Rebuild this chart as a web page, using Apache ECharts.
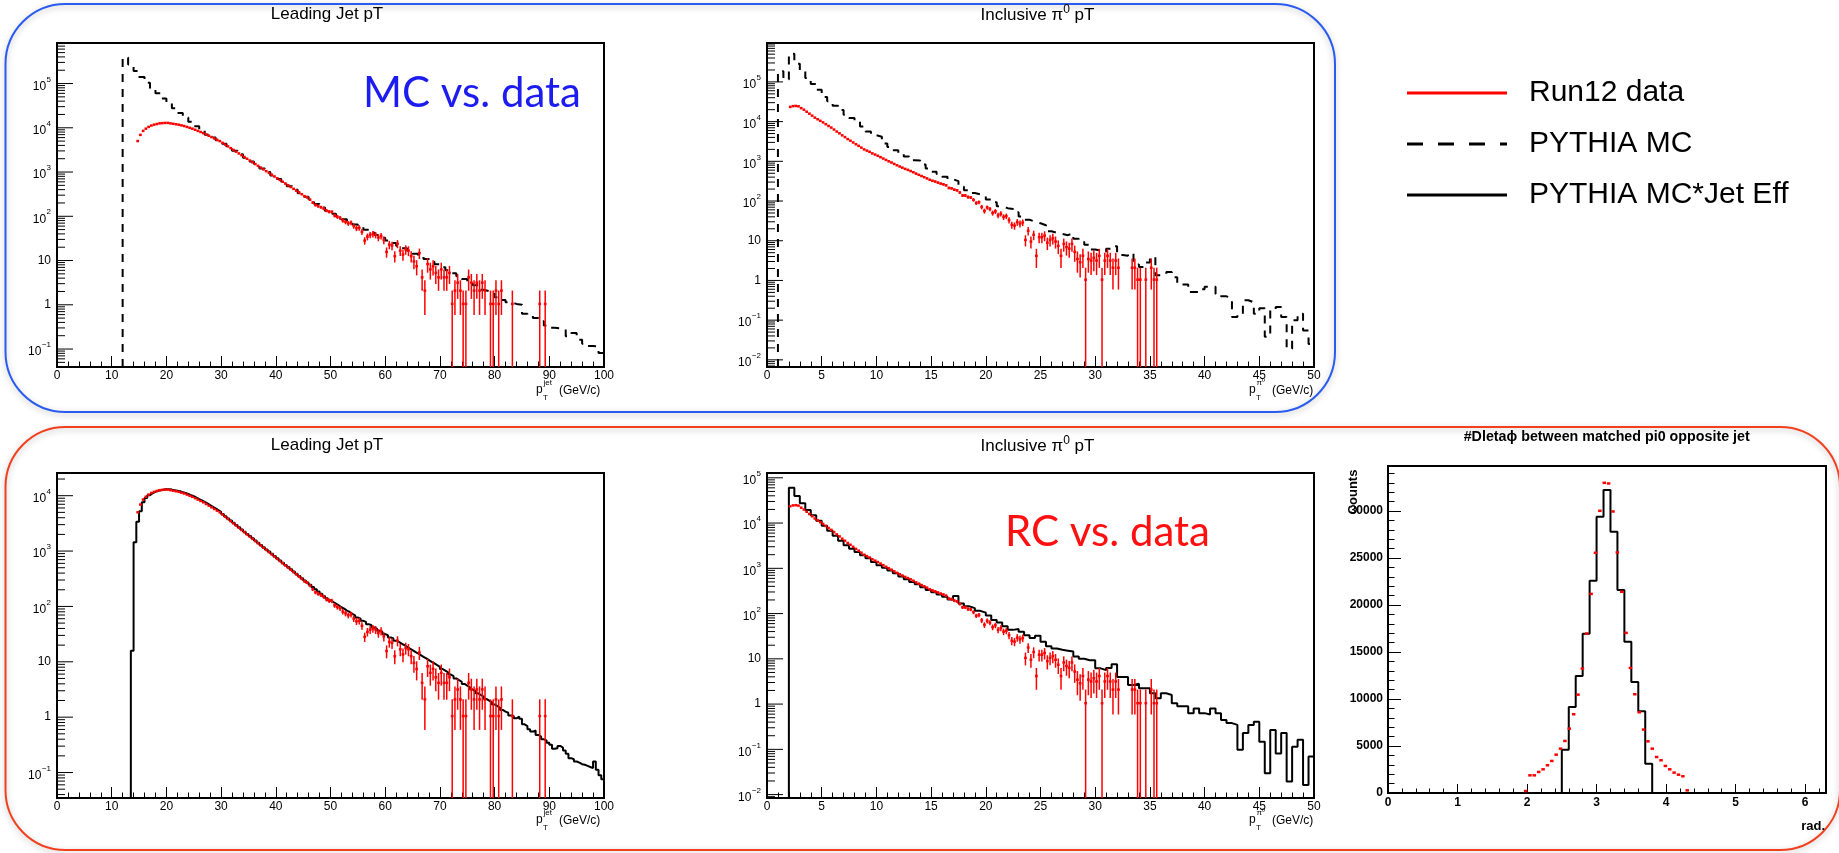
<!DOCTYPE html>
<html>
<head>
<meta charset="utf-8">
<script src="https://cdn.jsdelivr.net/npm/echarts@6.0.0/dist/echarts.min.js"></script>
<style>
html,body{margin:0;padding:0;background:#ffffff;}
#chart{width:1839px;height:853px;}
</style>
</head>
<body>
<div id="chart"></div>
<script>
// ================= DATA =================
// Leading jet pT, Run12 data: 0.5 GeV bins starting at 14.5 GeV, values as log10(counts)
const JET_DATA_BIN = 0.5;
const jetDataStart = 14.5;
const jetDataLog10 = [
 3.70,3.84,3.93,3.98,4.02,4.05,4.07,4.085,4.10,4.105,
 4.11,4.11,4.10,4.09,4.08,4.07,4.055,4.04,4.02,4.00,
 3.98,3.955,3.93,3.905,3.88,3.85,3.82,3.79,3.76,3.73,
 3.70,3.66,3.62,3.58,3.54,3.50,3.46,3.42,3.38,3.34,
 3.30,3.26,3.22,3.18,3.14,3.10,3.06,3.02,2.98,2.94,
 2.90,2.86,2.82,2.78,2.74,2.70,2.66,2.62,2.58,2.54,
 2.50,2.455,2.43,2.375,2.31,2.255,2.23,2.205,2.175,2.13,
 2.105,2.10,2.02,1.99,1.965,1.905,1.875,1.84,1.855,1.78,
 1.73,1.74,1.65,1.45,1.54,1.58,1.60,1.58,1.52,1.555,
 1.46,1.195,1.36,1.34,1.10,1.38,1.225,1.135,1.25,1.225,
 1.10,0.98,0.87,1.167,0.62,0.32,0.92,0.80,0.87,0.72,
 0.62,0.80,0.62,0.62,0.72,0.02,0.32,0.50,0.32,0.02,
 0.02,0.62,0.50,0.32,0.50,0.32,0.50,0.32,null,0.02,
 0.02,0.32,0.02,0.32,null,null,null,0.02,null,null,
 null,null,null,null,null,null,null,0.02,null,0.02
];
// statistical error (absolute counts) of each jet data bin
const jetDataErr = [
 72,85,95,100,105,108,111,113,115,116,
 116,116,115,114,112,111,109,107,105,102,
 100,97,95,92,89,86,83,80,78,75,
 72,69,66,63,60,58,55,53,50,48,
 46,44,42,40,38,36,35,33,32,30,
 29,28,26,25,24,23,22,21,20,19,
 18.2,17.3,16.8,15.8,14.7,13.7,13.4,13,12.5,11.9,
 11.6,11.5,10.5,10.1,9.8,9.2,8.9,8.5,8.7,7.9,
 7.5,7.6,6.9,5.4,6.1,6.3,6.5,6.3,5.9,6.1,
 5.5,4.1,4.9,4.8,3.6,5.0,4.2,3.8,4.3,4.2,
 3.6,3.2,2.8,3.9,2.1,1.5,3.0,2.6,2.8,2.3,
 2.1,2.6,2.1,2.1,2.3,1.05,1.5,1.8,1.5,1.05,
 1.05,2.1,1.8,1.5,1.8,1.5,1.8,1.5,0,1.05,
 1.05,1.5,1.05,1.5,0,0,0,1.05,0,0,
 0,0,0,0,0,0,0,1.05,0,1.05
];
// Leading jet pT, PYTHIA MC: 1 GeV bins from 12 GeV, log10(counts)
const JET_MC_BIN = 1;
const jetMcStart = 12;
const jetMcLog10 = [
 5.59,5.43,5.285,5.145,5.02,4.90,4.78,4.66,4.55,4.44,
 4.335,4.235,4.135,4.035,3.935,3.84,3.78,3.72,3.64,3.56,
 3.48,3.40,3.32,3.24,3.16,3.08,3.00,2.92,2.84,2.76,
 2.68,2.60,2.52,2.44,2.36,2.28,2.20,2.12,2.055,1.995,
 1.935,1.875,1.815,1.755,1.695,1.635,1.575,1.515,1.455,1.395,
 1.335,1.275,1.215,1.155,1.095,1.035,0.975,0.915,0.85,0.78,
 0.715,0.645,0.58,0.51,0.44,0.34,0.31,0.25,0.17,0.11,
 0.06,0.02,0.0,-0.20,-0.25,-0.30,-0.37,-0.47,-0.52,-0.53,
 -0.55,-0.71,-0.64,-0.79,-0.88,-0.93,-0.94,-1.09
];
// Leading jet pT, PYTHIA MC*Jet Eff: 0.5 GeV bins from 13.5 GeV, log10(counts)
const JET_EFF_BIN = 0.5;
const jetEffStart = 13.5;
const jetEffLog10 = [
 1.20,3.16,3.53,3.72,3.88,3.96,4.01,4.045,4.07,4.09,
 4.10,4.11,4.115,4.115,4.11,4.10,4.09,4.08,4.065,4.05,
 4.03,4.01,3.99,3.965,3.94,3.915,3.89,3.86,3.83,3.80,
 3.77,3.74,3.71,3.67,3.63,3.59,3.55,3.51,3.47,3.43,
 3.39,3.35,3.31,3.27,3.23,3.19,3.15,3.11,3.07,3.03,
 2.99,2.95,2.91,2.87,2.83,2.79,2.75,2.71,2.67,2.63,
 2.59,2.55,2.51,2.47,2.43,2.39,2.35,2.31,2.27,2.23,
 2.19,2.15,2.11,2.08,2.05,2.02,1.985,1.96,1.925,1.90,
 1.865,1.84,1.80,1.78,1.74,1.72,1.68,1.66,1.62,1.60,
 1.56,1.54,1.50,1.48,1.44,1.42,1.38,1.36,1.33,1.30,
 1.27,1.24,1.21,1.18,1.15,1.12,1.09,1.06,1.03,1.00,
 0.97,0.94,0.91,0.87,0.84,0.81,0.77,0.74,0.70,0.67,
 0.64,0.60,0.57,0.54,0.50,0.47,0.43,0.40,0.37,0.33,
 0.30,0.27,0.23,0.20,0.17,0.13,0.10,0.08,0.03,0.02,
 -0.02,0.01,-0.03,-0.13,-0.16,-0.22,-0.26,-0.24,-0.32,-0.35,
 -0.40,-0.42,-0.46,-0.50,-0.57,-0.56,-0.52,-0.55,-0.60,-0.66,
 -0.74,-0.76,-0.80,-0.82,-0.85,-0.86,-0.88,-0.90,-0.92,-0.80,
 -0.95,-1.05,-1.12
];
// Inclusive pi0 pT, Run12 data: 0.25 GeV bins from 2 GeV, log10(counts)
const PI0_DATA_BIN = 0.25;
const pi0DataStart = 2.0;
const pi0DataLog10 = [
 4.37,4.39,4.395,4.385,4.34,4.30,4.25,4.20,4.15,4.10,
 4.06,4.02,3.98,3.935,3.89,3.85,3.80,3.75,3.705,3.655,
 3.61,3.56,3.52,3.475,3.43,3.39,3.345,3.30,3.27,3.24,
 3.20,3.17,3.14,3.105,3.07,3.035,3.00,2.97,2.935,2.90,
 2.87,2.84,2.81,2.785,2.755,2.725,2.69,2.66,2.63,2.60,
 2.57,2.535,2.51,2.49,2.465,2.44,2.42,2.395,2.33,2.32,
 2.285,2.27,2.215,2.14,2.14,2.10,2.09,2.03,1.95,1.97,
 1.85,1.75,1.84,1.80,1.70,1.74,1.64,1.68,1.60,1.62,
 1.52,1.40,1.38,1.47,1.43,1.46,1.02,1.25,0.98,1.15,
 0.62,1.09,1.09,1.13,0.95,1.02,1.06,0.98,0.87,0.62,
 0.92,0.84,0.80,0.92,0.72,0.54,0.46,0.62,0.02,0.54,
 0.50,0.57,0.50,0.62,0.02,0.50,0.62,0.50,0.32,0.50,
 0.32,null,null,null,null,0.32,0.32,0.02,0.02,null,
 0.02,null,0.32,0.02,0.02
];
const pi0DataErr = [
 157,160,161,160,152,145,137,129,122,115,
 110,105,100,95,90,86,81,77,73,69,
 65,62,59,56,53,51,48,46,44,43,
 41,39,38,37,35,34,32,31,30,29,
 28,27,26,25,24,24,23,22,21,20,
 20,19,18,18,18,17,17,16,15,15,
 14,14,13,12,12,11.5,11,10.6,9.7,9.9,
 9.0,8.0,8.5,8.1,7.3,7.6,6.8,7.1,6.5,6.6,
 5.9,5.1,5.0,5.6,5.3,5.5,3.3,4.3,3.2,3.8,
 2.1,3.6,3.6,3.8,3.1,3.3,3.5,3.2,2.8,2.1,
 3.0,2.7,2.6,3.0,2.3,1.9,1.7,2.1,1.05,1.9,
 1.8,2.0,1.8,2.1,1.05,1.8,2.1,1.8,1.5,1.8,
 1.5,0,0,0,0,1.5,1.5,1.05,1.05,0,
 1.05,0,1.5,1.05,1.05
];
// Inclusive pi0 pT, PYTHIA MC: 0.5 GeV bins from 1 GeV, log10(counts)
const PI0_MC_BIN = 0.5;
const pi0McStart = 1.0;
const pi0McLog10 = [
 5.27,5.06,5.71,5.46,5.30,5.10,4.95,4.80,4.62,4.51,
 4.40,4.29,4.17,4.09,4.01,3.88,3.75,3.66,3.62,3.45,
 3.36,3.28,3.20,3.12,3.03,3.02,2.92,2.82,2.74,2.68,
 2.61,2.55,2.50,2.36,2.27,2.20,2.17,2.14,2.04,1.97,
 1.87,1.82,1.80,1.72,1.61,1.53,1.48,1.44,1.39,1.24,
 1.20,1.17,1.14,1.19,1.05,0.97,0.90,0.78,0.75,0.72,
 0.80,0.86,0.64,0.62,0.68,0.40,0.34,0.45,0.59,0.13,
 0.15,0.21,0.08,-0.10,-0.10,-0.29,-0.29,-0.22,-0.16,-0.16,
 -0.34,-0.40,-0.45,-0.92,-0.84,-0.50,-0.55,-0.84,-0.70,-1.42,
 -0.75,-0.67,-0.92,-1.72,-1.00,-0.84,-1.26,-1.60
];
// Inclusive pi0 pT, PYTHIA MC*Jet Eff: 0.5 GeV bins from 2 GeV, log10(counts)
const PI0_EFF_BIN = 0.5;
const pi0EffStart = 2.0;
const pi0EffLog10 = [
 4.78,4.60,4.44,4.29,4.17,4.05,3.94,3.83,3.72,3.61,
 3.51,3.43,3.36,3.29,3.22,3.14,3.07,3.01,2.95,2.89,
 2.82,2.76,2.70,2.65,2.58,2.52,2.47,2.42,2.37,2.31,
 2.39,2.22,2.16,2.12,2.06,2.02,1.96,1.86,1.80,1.72,
 1.64,1.66,1.60,1.52,1.46,1.51,1.38,1.28,1.23,1.20,
 1.18,1.16,1.05,1.00,0.97,0.97,0.79,0.75,0.80,0.88,
 0.60,0.60,0.42,0.45,0.35,0.35,0.24,0.13,0.24,0.20,
 0.02,-0.05,-0.05,-0.20,-0.10,-0.20,-0.23,-0.10,-0.20,-0.35,
 -0.42,-0.46,-1.01,-0.64,-0.46,-0.39,-0.83,-1.53,-0.57,-1.09,
 -0.64,-1.71,-0.94,-0.79,-1.79,-1.16
];
// Delta-phi between matched pi0 and opposite jet
const DPHI_EFF_BIN = 0.1;
const dphiEffStart = 2.5;
const dphiEffCounts = [4600,9150,12450,16950,22600,29400,32250,27800,21600,16100,11800,8700,3100];
const DPHI_DATA_BIN = 2 * Math.PI / 100;
const dphiDataFirstBin = 31;
const dphiDataCounts = [
 210,1880,1880,2240,2520,2950,3410,4080,4720,5540,6850,8380,10470,13240,16970,21190,25560,30030,33010,
 32940,29960,25600,21410,17040,13310,10510,8590,6750,5500,4720,3830,3480,2880,2520,2170,1950,1780,280
];
// tick decades (log axes) per panel
const tlDecades = [-1,0,1,2,3,4,5];
const tmDecades = [-2,-1,0,1,2,3,4,5];
const blDecades = [-1,0,1,2,3,4];
const bmDecades = [-2,-1,0,1,2,3,4,5];
const legendNames = ['Run12 data','PYTHIA MC','PYTHIA MC*Jet Eff'];

// ================= LAYOUT =================
const FONT = "'Liberation Sans', Arial, Helvetica, sans-serif";
const RED = '#ff0000';
const RANGES = {
  tl: [Math.pow(10,-1.406), Math.pow(10,5.916)],
  tm: [Math.pow(10,-2.18),  Math.pow(10,5.98)],
  bl: [Math.pow(10,-1.46),  Math.pow(10,4.41)],
  bm: [Math.pow(10,-2.075), Math.pow(10,5.106)]
};
const grids = [
  {left: 57,   top: 43,  width: 547, height: 324},
  {left: 767,  top: 43,  width: 547, height: 324},
  {left: 57,   top: 473, width: 547, height: 325},
  {left: 767,  top: 473, width: 547, height: 325},
  {left: 1388, top: 466, width: 438, height: 327}
].map(g => Object.assign({show: true, borderColor: '#000', borderWidth: 2, backgroundColor: 'transparent', containLabel: false, outerBoundsMode: 'none'}, g));

const mctx = document.createElement('canvas').getContext('2d');
function tw(text, font) { mctx.font = font; return mctx.measureText(text).width; }

function xAx(gi, max, interval, opt) {
  opt = opt || {};
  return {
    type: 'value', gridIndex: gi, min: 0, max: max, interval: interval,
    axisLine: {show: false},
    axisTick: {show: true, inside: true, length: opt.tick || 11, lineStyle: {color: '#000', width: 1}},
    minorTick: {show: true, splitNumber: 5, length: opt.minor || 5.5, lineStyle: {color: '#000', width: 1}},
    splitLine: {show: false}, minorSplitLine: {show: false},
    axisLabel: {fontFamily: FONT, fontSize: 12, color: '#000', margin: opt.margin || 3,
      fontWeight: opt.bold ? 'bold' : 'normal', showMaxLabel: opt.hideMax ? false : true,
      formatter: function (v) { return String(Math.round(v * 1000) / 1000); }}
  };
}
function yLog(gi, r) {
  return {type: 'log', logBase: 10, gridIndex: gi, min: r[0], max: r[1],
    axisLine: {show: false}, axisTick: {show: false}, axisLabel: {show: false},
    splitLine: {show: false}, minorTick: {show: false}};
}

function logTickSeries(gi, r, decades) {
  const data = [];
  const k0 = Math.floor(Math.log10(r[0])), k1 = Math.ceil(Math.log10(r[1]));
  for (let k = k0; k <= k1; k++) {
    for (let m = 1; m <= 9; m++) {
      const v = m * Math.pow(10, k);
      if (v < r[0] || v > r[1]) continue;
      data.push([0, v, (m === 1 && decades.indexOf(k) >= 0) ? 1 : 0, k]);
    }
  }
  return {
    type: 'custom', xAxisIndex: gi, yAxisIndex: gi, silent: true, clip: false, z: 6,
    data: data,
    renderItem: function (params, api) {
      const v = api.value(1), major = api.value(2) === 1, k = api.value(3);
      const p = api.coord([0, v]);
      const ch = [{type: 'line', shape: {x1: p[0], y1: p[1], x2: p[0] + (major ? 16 : 8), y2: p[1]},
        style: {stroke: '#000', lineWidth: 1}}];
      if (major) {
        const xr = p[0] - 6;
        if (k === 0 || k === 1) {
          ch.push({type: 'text', x: xr, y: p[1], style: {text: k === 0 ? '1' : '10', fill: '#000',
            font: '12px ' + FONT, align: 'right', verticalAlign: 'middle'}});
        } else {
          const ex = (k < 0 ? '\u2212' + (-k) : String(k));
          const sw = tw(ex, '8px ' + FONT);
          ch.push({type: 'text', x: xr, y: p[1] - 4, style: {text: ex, fill: '#000',
            font: '8px ' + FONT, align: 'right', verticalAlign: 'middle'}});
          ch.push({type: 'text', x: xr - sw - 0.5, y: p[1] + 3, style: {text: '10', fill: '#000',
            font: '12px ' + FONT, align: 'right', verticalAlign: 'middle'}});
        }
      }
      return {type: 'group', children: ch};
    }
  };
}

function histSeries(name, gi, start, bw, vals, floor, dashed, closeEnd) {
  const pts = [[start, floor]];
  vals.forEach(function (v, i) {
    const lo = start + i * bw, y = (v == null) ? floor : v;
    pts.push([lo, y], [lo + bw, y]);
  });
  if (closeEnd) pts.push([start + vals.length * bw, floor]);
  return {
    type: 'line', name: name, xAxisIndex: gi, yAxisIndex: gi, data: pts,
    symbol: 'none', showSymbol: false, clip: true, z: 3, silent: true,
    lineStyle: {color: '#000', width: 2, type: dashed ? [8, 7] : 'solid'},
    itemStyle: {color: '#000'}, emphasis: {disabled: true}
  };
}

function dataSeries(gi, pts, floor, barWidth) {
  return {
    type: 'custom', name: 'Run12 data', xAxisIndex: gi, yAxisIndex: gi, clip: true, z: 4, silent: true,
    dimensions: ['x', 'y', 'err', 'hw'], encode: {x: 0, y: 1},
    itemStyle: {color: RED},
    data: pts,
    renderItem: function (params, api) {
      const c = api.value(0), v = api.value(1), e = api.value(2) || 0, hw = api.value(3);
      const cs = params.coordSys;
      const l = api.coord([c - hw, v]), r = api.coord([c + hw, v]);
      const ch = [{type: 'line', shape: {x1: l[0], y1: l[1], x2: r[0], y2: r[1]},
        style: {stroke: RED, lineWidth: barWidth}}];
      if (e > 0) {
        const t = api.coord([c, v + e]);
        const b = (v - e > floor) ? api.coord([c, v - e])[1] : cs.y + cs.height;
        const xm = (l[0] + r[0]) / 2;
        ch.push({type: 'line', shape: {x1: xm, y1: t[1], x2: xm, y2: b}, style: {stroke: RED, lineWidth: 1.5}});
      }
      return {type: 'group', children: ch};
    }
  };
}

function pow10(arr) { return arr.map(function (L) { return L == null ? null : Math.pow(10, L); }); }
function dataPoints(start, bw, logs, errs) {
  const out = [];
  logs.forEach(function (L, i) {
    if (L == null) return;
    out.push([start + (i + 0.5) * bw, Math.pow(10, L), errs[i], bw / 2]);
  });
  return out;
}

const jetPts = dataPoints(jetDataStart, JET_DATA_BIN, jetDataLog10, jetDataErr);
const pi0Pts = dataPoints(pi0DataStart, PI0_DATA_BIN, pi0DataLog10, pi0DataErr);
const dphiPts = dphiDataCounts.map(function (v, i) {
  return [(dphiDataFirstBin + i + 0.5) * DPHI_DATA_BIN, v, 0, DPHI_DATA_BIN * 0.4];
});

// ---------- texts ----------
const graphics = [];
graphics.push({type: 'rect', silent: true, z: -10,
  shape: {x: 5.5, y: 4, width: 1329.5, height: 408, r: 60},
  style: {fill: 'none', stroke: '#2a5bef', lineWidth: 2, shadowBlur: 6, shadowColor: 'rgba(0,0,0,0.28)', shadowOffsetY: 2}});
graphics.push({type: 'rect', silent: true, z: -10,
  shape: {x: 5.5, y: 427, width: 1834.5, height: 423, r: 60},
  style: {fill: 'none', stroke: '#f2401f', lineWidth: 2, shadowBlur: 6, shadowColor: 'rgba(0,0,0,0.28)', shadowOffsetY: 2}});

function addText(t, x, y, font, opts) {
  opts = opts || {};
  graphics.push({type: 'text', x: x, y: y, silent: true, z: 20,
    scaleX: opts.sx || 1, rotation: opts.rot || 0,
    style: {text: t, font: font, fill: opts.color || '#000', align: opts.align || 'left', verticalAlign: 'middle'}});
}
const F17 = '17px ' + FONT;
addText('Leading Jet pT', 327, 14, F17, {align: 'center'});
addText('Leading Jet pT', 327, 445, F17, {align: 'center'});
function piTitle(cx, cy) {
  const a = 'Inclusive \u03c0', b = '0', c = ' pT';
  const fs = '12px ' + FONT;
  const W = tw(a, F17) + tw(b, fs) + tw(c, F17);
  let x = cx - W / 2;
  addText(a, x, cy, F17); x += tw(a, F17);
  addText(b, x, cy - 5, fs); x += tw(b, fs);
  addText(c, x, cy, F17);
}
piTitle(1037.5, 15);
piTitle(1037.5, 446);
addText('#Dleta\u03d5 between matched pi0 opposite jet', 1606.7, 437, 'bold 14px ' + FONT, {align: 'center', sx: 1.02});
addText('Counts', 1353, 492, 'bold 13px ' + FONT, {align: 'center', rot: Math.PI / 2});
addText('rad.', 1825, 826, 'bold 13px ' + FONT, {align: 'right'});

function pTitle(xp, yc, sup) {
  addText('p', xp, yc, '12px ' + FONT);
  addText(sup, xp + 7.5, yc - 7, '8px ' + FONT);
  addText('T', xp + 7, yc + 8, '8px ' + FONT);
  addText('(GeV/c)', xp + 23, yc + 1, '12px ' + FONT);
}
pTitle(536, 390, 'jet');
pTitle(1249, 390, '\u03c0\u2070');
pTitle(536, 820, 'jet');
pTitle(1249, 820, '\u03c0\u2070');

addText('MC vs. data', 363, 93, '42px Lato, ' + FONT, {color: '#1c1cf0'});
addText('RC vs. data', 1005, 532, '42px Lato, ' + FONT, {color: '#ff1010'});

// ================= CHART =================
const chart = echarts.init(document.getElementById('chart'), null, {renderer: 'canvas', width: 1839, height: 853});
const option = {
  animation: false,
  backgroundColor: '#ffffff',
  grid: grids,
  legend: {
    orient: 'vertical', left: 1402, top: 73, itemWidth: 100, itemHeight: 3, itemGap: 21,
    selectedMode: false,
    formatter: '{t|{name}}',
    textStyle: {color: '#000', rich: {t: {fontFamily: FONT, fontSize: 30, lineHeight: 30, padding: [0, 0, 0, 17], color: '#000'}}},
    data: [
      {name: legendNames[0], icon: 'rect', itemStyle: {color: RED}},
      {name: legendNames[1], icon: 'path://M0,0h16v3h-16z M31,0h16v3h-16z M62,0h16v3h-16z M93,0h7v3h-7z', itemStyle: {color: '#000'}},
      {name: legendNames[2], icon: 'rect', itemStyle: {color: '#000'}}
    ]
  },
  xAxis: [
    xAx(0, 100, 10), xAx(1, 50, 5), xAx(2, 100, 10), xAx(3, 50, 5),
    xAx(4, 6.3, 1, {bold: true, tick: 9, minor: 4.5, margin: 4, hideMax: true})
  ],
  yAxis: [
    yLog(0, RANGES.tl), yLog(1, RANGES.tm), yLog(2, RANGES.bl), yLog(3, RANGES.bm),
    {type: 'value', gridIndex: 4, min: 0, max: 34800, interval: 5000,
      axisLine: {show: false},
      axisTick: {show: true, inside: true, length: 13, lineStyle: {color: '#000', width: 1}},
      minorTick: {show: true, splitNumber: 5, length: 6.5, lineStyle: {color: '#000', width: 1}},
      splitLine: {show: false}, minorSplitLine: {show: false},
      axisLabel: {fontFamily: FONT, fontSize: 12, fontWeight: 'bold', color: '#000', margin: 5, showMaxLabel: false,
        formatter: function (v) { return String(Math.round(v)); }}}
  ],
  series: [
    histSeries('PYTHIA MC', 0, jetMcStart, JET_MC_BIN, pow10(jetMcLog10), RANGES.tl[0], true),
    dataSeries(0, jetPts, RANGES.tl[0], 2.5),
    logTickSeries(0, RANGES.tl, tlDecades),

    histSeries('PYTHIA MC', 1, pi0McStart, PI0_MC_BIN, pow10(pi0McLog10), RANGES.tm[0], true),
    dataSeries(1, pi0Pts, RANGES.tm[0], 2.5),
    logTickSeries(1, RANGES.tm, tmDecades),

    histSeries('PYTHIA MC*Jet Eff', 2, jetEffStart, JET_EFF_BIN, pow10(jetEffLog10), RANGES.bl[0], false),
    dataSeries(2, jetPts, RANGES.bl[0], 2.5),
    logTickSeries(2, RANGES.bl, blDecades),

    histSeries('PYTHIA MC*Jet Eff', 3, pi0EffStart, PI0_EFF_BIN, pow10(pi0EffLog10), RANGES.bm[0], false),
    dataSeries(3, pi0Pts, RANGES.bm[0], 2.5),
    logTickSeries(3, RANGES.bm, bmDecades),

    dataSeries(4, dphiPts, 0, 2.5),
    histSeries('PYTHIA MC*Jet Eff', 4, dphiEffStart, DPHI_EFF_BIN, dphiEffCounts, 0, false, true)
  ],
  graphic: graphics
};
chart.setOption(option);
</script>
</body>
</html>
